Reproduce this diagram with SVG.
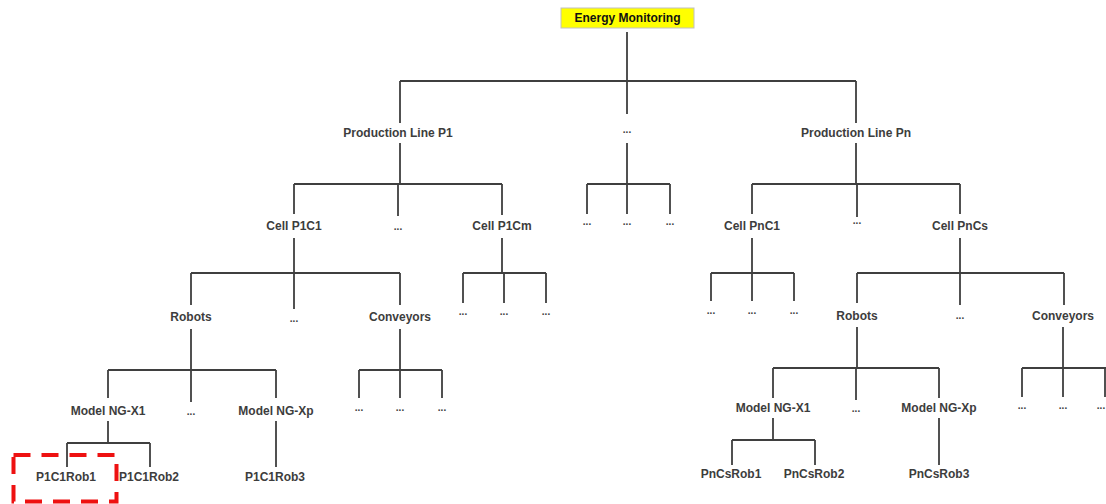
<svg xmlns="http://www.w3.org/2000/svg" width="1106" height="504" viewBox="0 0 1106 504">
<style>
.ln{stroke:#3f3f3f;stroke-width:1.8;fill:none;stroke-linecap:butt}
.t{font-family:"Liberation Sans",Arial,sans-serif;font-weight:bold;font-size:12px;fill:#3d3d3d;text-anchor:middle}
.d{font-family:"Liberation Sans",Arial,sans-serif;font-weight:bold;font-size:10px;fill:#3d3d3d;text-anchor:middle}
</style>
<rect width="1106" height="504" fill="#fff"/>
<g id="connectors">
<path class="ln" d="M627 32V114 M400 81H856 M400 81V123 M856 81V123"/>
<path class="ln" d="M400 143V184 M627 143V184 M856 143V184"/>
<path class="ln" d="M294 184H502 M294 184V214 M398 184V216 M502 184V215"/>
<path class="ln" d="M587 184H670 M587 184V214 M627 184V214 M670 184V214"/>
<path class="ln" d="M752 184H960 M752 184V214 M857 184V217 M960 184V214"/>
<path class="ln" d="M294 238V273 M502 238V273 M752 238V273 M960 238V273"/>
<path class="ln" d="M191 273H400 M191 273V305 M294 273V309 M400 273V305"/>
<path class="ln" d="M463 273H546 M463 273V303 M504 273V303 M546 273V303"/>
<path class="ln" d="M711 273H794 M711 273V301 M752 273V301 M794 273V301"/>
<path class="ln" d="M857 273H1064 M857 273V303 M960 273V305 M1064 273V305"/>
<path class="ln" d="M191 329V370 M400 329V370 M857 327V368 M1063 327V368"/>
<path class="ln" d="M108 370H276 M108 370V398 M191 370V402 M276 370V398"/>
<path class="ln" d="M359 370H442 M359 370V398 M400 370V398 M442 370V398"/>
<path class="ln" d="M773 368H939 M773 368V398 M856 368V400 M939 368V398"/>
<path class="ln" d="M1022 368H1106 M1022 368V397 M1063 368V397 M1105 368V397"/>
<path class="ln" d="M108 421V443 M67 443H150 M67 443V467 M150 443V467 M276 421V467"/>
<path class="ln" d="M773 418V440 M732 440H815 M732 440V465 M815 440V465 M939 418V465"/>
</g>
<g id="root">
<rect x="561" y="8" width="133" height="20" fill="#ffff00" stroke="#c0c0c0" stroke-width="1"/>
<text x="627.5" y="22" class="t" style="fill:#111">Energy Monitoring</text>
</g>
<g id="n-pl1"><text x="398" y="137" class="t">Production Line P1</text></g>
<g id="n-pl-dots"><text x="627" y="133" class="d">...</text></g>
<g id="n-pln"><text x="856" y="137" class="t">Production Line Pn</text></g>
<g id="n-p1c1"><text x="294" y="230" class="t">Cell P1C1</text></g>
<g id="n-p1c-dots"><text x="398" y="230" class="d">...</text></g>
<g id="n-p1cm"><text x="502" y="230" class="t">Cell P1Cm</text></g>
<g id="n-mid-dots"><text x="587" y="225" class="d">...</text><text x="627" y="225" class="d">...</text><text x="670" y="225" class="d">...</text></g>
<g id="n-pnc1"><text x="752" y="230" class="t">Cell PnC1</text></g>
<g id="n-pnc-dots"><text x="857" y="224" class="d">...</text></g>
<g id="n-pncs"><text x="960" y="230" class="t">Cell PnCs</text></g>
<g id="n-robots1"><text x="191" y="321" class="t">Robots</text></g>
<g id="n-l3dots1"><text x="294" y="322" class="d">...</text></g>
<g id="n-conv1"><text x="400" y="321" class="t">Conveyors</text></g>
<g id="n-p1cm-dots"><text x="463" y="315" class="d">...</text><text x="504" y="315" class="d">...</text><text x="546" y="315" class="d">...</text></g>
<g id="n-pnc1-dots"><text x="711" y="314" class="d">...</text><text x="752" y="314" class="d">...</text><text x="794" y="314" class="d">...</text></g>
<g id="n-robots2"><text x="857" y="320" class="t">Robots</text></g>
<g id="n-l3dots2"><text x="960" y="319" class="d">...</text></g>
<g id="n-conv2"><text x="1063" y="320" class="t">Conveyors</text></g>
<g id="n-mx1a"><text x="108" y="415" class="t">Model NG-X1</text></g>
<g id="n-mdots1"><text x="191" y="415" class="d">...</text></g>
<g id="n-mxpa"><text x="276" y="415" class="t">Model NG-Xp</text></g>
<g id="n-conv1-dots"><text x="359" y="411" class="d">...</text><text x="400" y="411" class="d">...</text><text x="442" y="411" class="d">...</text></g>
<g id="n-mx1b"><text x="773" y="412" class="t">Model NG-X1</text></g>
<g id="n-mdots2"><text x="856" y="412" class="d">...</text></g>
<g id="n-mxpb"><text x="939" y="412" class="t">Model NG-Xp</text></g>
<g id="n-conv2-dots"><text x="1022" y="409" class="d">...</text><text x="1063" y="409" class="d">...</text><text x="1101" y="409" class="d">...</text></g>
<g id="n-p1c1rob1"><text x="66" y="481" class="t">P1C1Rob1</text></g>
<g id="n-p1c1rob2"><text x="149" y="481" class="t">P1C1Rob2</text></g>
<g id="n-p1c1rob3"><text x="275" y="481" class="t">P1C1Rob3</text></g>
<g id="n-pncsrob1"><text x="731" y="478" class="t">PnCsRob1</text></g>
<g id="n-pncsrob2"><text x="814" y="478" class="t">PnCsRob2</text></g>
<g id="n-pncsrob3"><text x="939" y="478" class="t">PnCsRob3</text></g>
<g id="highlight">
<rect x="13.5" y="455" width="103" height="46.5" fill="none" stroke="#ee1111" stroke-width="4" stroke-dasharray="17 11"/>
</g>
</svg>
